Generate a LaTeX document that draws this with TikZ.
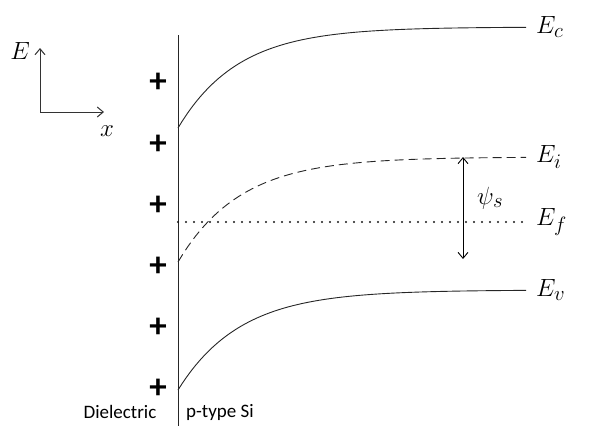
\documentclass[tikz,border=0pt]{standalone}
\usepackage{fontspec}
\setsansfont{Carlito}
\usetikzlibrary{arrows.meta,calc,positioning}
\begin{document}
\begin{tikzpicture}[x=1pt,y=-1pt,
every node/.style={inner sep=0pt},
band/.style={line width=0.9pt,black!85},
lvl/.style={font=\fontsize{31}{33}\selectfont,anchor=west},
plus/.style={font=\sffamily\bfseries\fontsize{35}{37}\selectfont},
>={Straight Barb[length=6pt,width=10pt]}]
\useasboundingbox (0,0) rectangle (608,439);
% interface
\coordinate (T) at (178,35);
\coordinate (B) at (178,426);
\draw[line width=1pt,black!85] (T)--(B);
% bands
\draw[band,domain=178:526,samples=80] plot (\x,{27+101*exp(-(\x-178)/60)});
\draw[band,dashed,dash pattern=on 9pt off 5pt,domain=178:526,samples=80] plot (\x,{157+105*exp(-(\x-178)/62)});
\draw[band,domain=178:526,samples=80] plot (\x,{290+100*exp(-(\x-178)/62)});
\coordinate (F1) at (178,222);
\coordinate (F2) at (524,222);
\draw[black!90,line width=2.2pt,dash pattern=on 0pt off 8pt,line cap=round] (F1)--(F2);
\node[lvl] (Ec) at (536,27) {$E_c$};
\node[lvl] (Ei) at (536,157) {$E_i$};
\node[lvl] (Ef) at (536,222) {$E_f$};
\node[lvl] (Ev) at (536,290) {$E_v$};
% surface potential
\coordinate (P1) at (463,157);
\coordinate (P2) at (463,259);
\draw[<->,line width=0.9pt] (P1)--(P2);
\node[lvl] (psi) at (477,198) {$\psi_s$};
% charges
\foreach \i/\y in {1/83,2/145,3/206,4/267,5/328,6/389}
  \node[plus] (q\i) at (158,\y) {+};
% axes
\coordinate (O) at (40,112);
\coordinate (OE) at (40,48);
\coordinate (Ox) at (104,112);
\draw[->,line width=1pt,black!80] (O)--(OE);
\draw[->,line width=1pt,black!80] (O)--(Ox);
\node[font=\fontsize{24}{26}\selectfont] (lE) at (20,51) {$E$};
\node[font=\fontsize{24}{26}\selectfont] (lx) at (107,131) {$x$};
% regions
\node[font=\sffamily\fontsize{19}{21}\selectfont] (diel) at (120,412) {Dielectric};
\node[font=\sffamily\fontsize{19}{21}\selectfont] (si) at (220,412) {p-type Si};
\end{tikzpicture}
\end{document}
